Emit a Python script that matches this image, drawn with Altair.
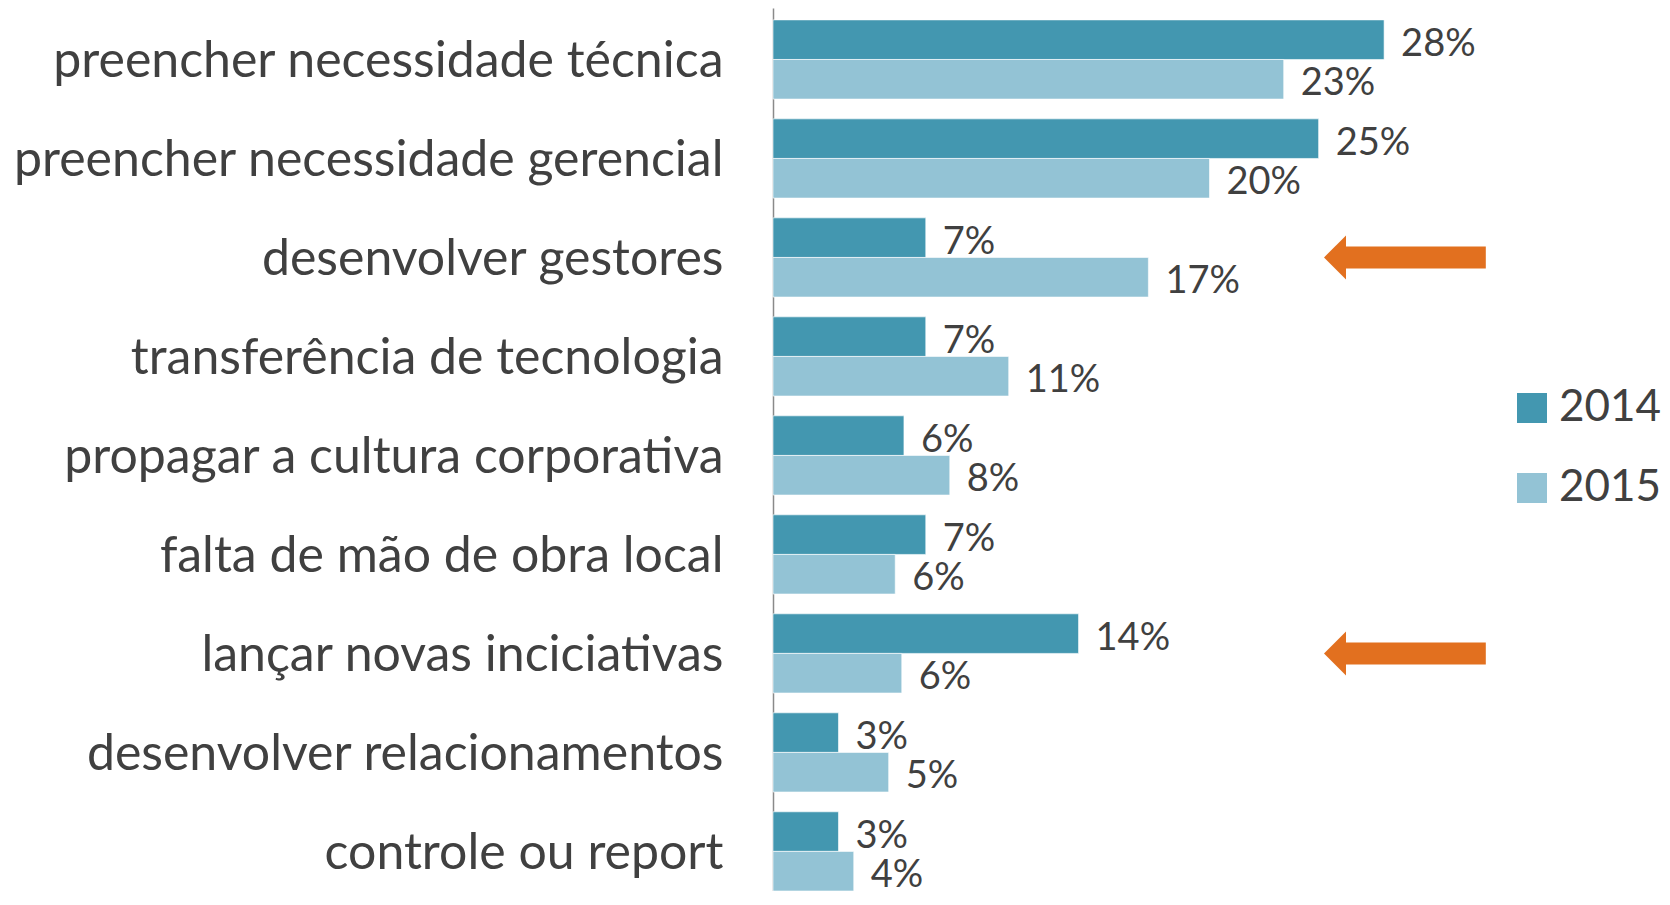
import altair as alt
import pandas as pd

categories = [
    "preencher necessidade técnica",
    "preencher necessidade gerencial",
    "desenvolver gestores",
    "transferência de tecnologia",
    "propagar a cultura corporativa",
    "falta de mão de obra local",
    "lançar novas inciciativas",
    "desenvolver relacionamentos",
    "controle ou report",
]
years = ["2014", "2015"]
values_2014 = [28.0, 25.0, 7.0, 7.0, 6.0, 7.0, 14.0, 3.0, 3.0]
values_2015 = [23.4, 20.0, 17.2, 10.8, 8.1, 5.6, 5.9, 5.3, 3.7]
labels_2014 = ["28%", "25%", "7%", "7%", "6%", "7%", "14%", "3%", "3%"]
labels_2015 = ["23%", "20%", "17%", "11%", "8%", "6%", "6%", "5%", "4%"]

# highlighted categories (orange arrows), arrow extent in data units
arrow_categories = ["desenvolver gestores", "lançar novas inciciativas"]
arrow_tip = [25.75, 25.75]
arrow_start = [26.0, 26.0]
arrow_end = [32.66, 32.66]

rows = []
for i, c in enumerate(categories):
    rows.append({"category": c, "year": "2014", "value": values_2014[i], "label": labels_2014[i]})
    rows.append({"category": c, "year": "2015", "value": values_2015[i], "label": labels_2015[i]})
df = pd.DataFrame(rows)

arrows = pd.DataFrame({
    "category": arrow_categories,
    "tip": arrow_tip,
    "start": arrow_start,
    "end": arrow_end,
})

FONT = "Lato"
TXT = "#404040"
C2014 = "#4397B0"
C2015 = "#93C3D5"
ORANGE = "#E2701F"

yscale = alt.Scale(domain=categories, paddingInner=0.2, paddingOuter=0.06, align=1)
xscale = alt.Scale(domain=[0, 40], nice=False, zero=True)

y_enc = alt.Y(
    "category:N",
    sort=categories,
    scale=yscale,
    axis=alt.Axis(
        title=None,
        ticks=False,
        labelFont=FONT,
        labelFontSize=50,
        labelColor=TXT,
        labelPadding=50,
        labelOffset=3,
        labelLimit=0,
        domainColor="#8a8a8a",
        domainWidth=1.5,
    ),
)


def xq(field):
    return alt.X(field, scale=xscale, axis=None)


def yc():
    return alt.Y("category:N", sort=categories, scale=yscale)


bars = alt.Chart(df).mark_bar(stroke="#ffffff", strokeWidth=1, strokeOpacity=0.6).encode(
    y=y_enc,
    yOffset=alt.YOffset("year:N", sort=years),
    x=xq("value:Q"),
    color=alt.Color(
        "year:N",
        scale=alt.Scale(domain=years, range=[C2014, C2015]),
        legend=alt.Legend(
            title=None,
            orient="none",
            legendX=737,
            legendY=378,
            symbolType="square",
            symbolSize=900,
            symbolStrokeWidth=0,
            labelFont=FONT,
            labelFontSize=44,
            labelColor=TXT,
            labelOffset=5,
            rowPadding=36,
            padding=0,
        ),
    ),
)

texts = alt.Chart(df).mark_text(
    align="left", baseline="middle", dx=17, dy=5, font=FONT, fontSize=38, color=TXT
).encode(
    y=yc(),
    yOffset=alt.YOffset("year:N", sort=years),
    x=xq("value:Q"),
    text="label:N",
)

shaft = alt.Chart(arrows).mark_rule(color=ORANGE, strokeWidth=22, strokeCap="butt").encode(
    y=yc(),
    x=xq("start:Q"),
    x2="end:Q",
)

head = alt.Chart(arrows).mark_point(
    shape="M-0.5,0L0.5,-1L0.5,1Z", size=1936, filled=True, opacity=1, color=ORANGE, strokeWidth=0
).encode(
    y=yc(),
    x=xq("tip:Q"),
)

chart = alt.layer(bars, texts, shaft, head).properties(
    width=873,
    height=883,
    autosize=alt.AutoSizeParams(type="none"),
    padding={"left": 765, "top": 0, "right": 16, "bottom": 0},
).configure_view(strokeWidth=0)

chart.save("out.html", embed_options={"renderer": "svg", "actions": False})
